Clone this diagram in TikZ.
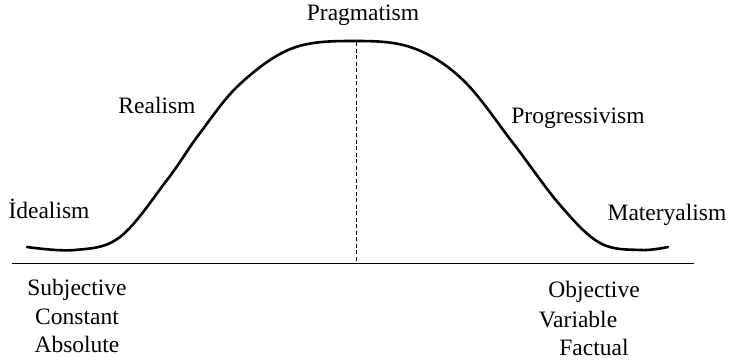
\documentclass[tikz,border=0pt]{standalone}
\usepackage{fontspec}
\setmainfont{Liberation Serif}
\begin{document}
\begin{tikzpicture}[x=1pt,y=-1pt,
  lbl/.style={anchor=base,inner sep=0pt,font=\fontsize{23.5}{27}\selectfont},
  curve/.style={line width=2.6pt,line cap=round,line join=round},
  axis/.style={line width=1pt},
  divider/.style={line width=0.9pt,dash pattern=on 4pt off 2.5pt}]
\useasboundingbox (0,0) rectangle (730,360);
% curve
\draw[curve] plot[smooth,tension=0.6] coordinates {
 (27,247) (75,250) (120,237) (167,180) (200,133) (240,84) (293,48)
 (356,41) (413,48) (463,80) (513,143) (560,205) (600,243) (640,250)
 (668,247)};
% axis and divider
\coordinate (axL) at (12,263);
\coordinate (axR) at (694,263);
\coordinate (topD) at (356,42);
\coordinate (botD) at (356,263);
\draw[axis] (axL) -- (axR);
\draw[divider] (topD) -- (botD);
% labels
\node[lbl] (prag) at (363,20) {Pragmatism};
\node[lbl] (real) at (157,113) {Realism};
\node[lbl] (ideal) at (49,218) {İdealism};
\node[lbl] (prog) at (578,123) {Progressivism};
\node[lbl] (mat) at (667,220) {Materyalism};
\node[lbl] (subj) at (77,295) {Subjective};
\node[lbl] (cons) at (77,324) {Constant};
\node[lbl] (abso) at (77,352) {Absolute};
\node[lbl] (obj) at (594,297) {Objective};
\node[lbl] (var) at (578,327) {Variable};
\node[lbl] (fact) at (594,355) {Factual};
\end{tikzpicture}
\end{document}
